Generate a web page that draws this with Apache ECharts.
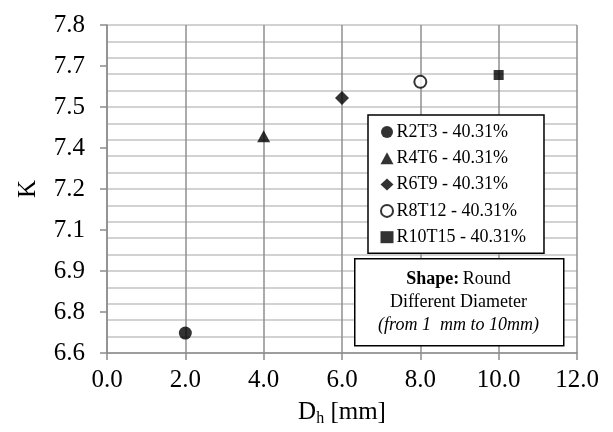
<!DOCTYPE html>
<html><head><meta charset="utf-8">
<script src="https://cdn.jsdelivr.net/npm/echarts@6/dist/echarts.min.js"></script>
<style>html,body{margin:0;padding:0;background:#fff}#c{width:613px;height:432px}</style>
</head><body><div id="c"></div>
<script>
var seriesNames = ['R2T3 - 40.31%', 'R4T6 - 40.31%', 'R6T9 - 40.31%', 'R8T12 - 40.31%', 'R10T15 - 40.31%'];
var dhValues = [2, 4, 6, 8, 10];
var kValues = [6.673, 7.393, 7.533, 7.592, 7.617];
var yTickLabels = ['6.6', '6.8', '6.9', '7.1', '7.2', '7.4', '7.5', '7.7', '7.8'];
var symbols = ['circle', 'triangle', 'diamond', 'emptyCircle', 'rect'];
var symbolSizes = [13, [13, 12], 14, 12, 10];

var FONT = '"Liberation Serif", "Times New Roman", serif';
var chart = echarts.init(document.getElementById('c'));
var series = seriesNames.map(function (n, i) {
  return {
    name: n, type: 'scatter', xAxisIndex: 0, yAxisIndex: 0,
    symbol: symbols[i], symbolSize: symbolSizes[i],
    itemStyle: symbols[i] === 'emptyCircle' ? { color: '#000', borderColor: '#000', borderWidth: 2 } : { color: '#000' },
    data: [[dhValues[i], kValues[i]]], z: 5
  };
});
chart.setOption({
  animation: false,
  backgroundColor: '#fff',
  textStyle: { fontFamily: FONT },
  grid: { left: 107, right: 36, top: 25, bottom: 79 },
  legend: {
    orient: 'vertical', left: 368, top: 115,
    padding: [8, 18, 7, 12], itemGap: 8.3, itemWidth: 13, itemHeight: 12,
    borderColor: '#000', borderWidth: 1.5, backgroundColor: '#fff',
    textStyle: { fontFamily: FONT, fontSize: 18, lineHeight: 18, color: '#000', padding: [0, 0, 0, -2] },
    data: seriesNames.map(function (n, i) { return { name: n, icon: symbols[i] }; }),
    z: 10
  },
  xAxis: {
    type: 'value', min: 0, max: 12, interval: 2, z: 2,
    name: '{a|D}{s|h}{a| [mm]}', nameLocation: 'middle', nameGap: 44,
    nameTextStyle: { rich: { a: { fontFamily: FONT, fontSize: 25, color: '#000' }, s: { fontFamily: FONT, fontSize: 16, color: '#000', verticalAlign: 'bottom', padding: [14, 0, 0, 0] } } },
    axisLine: { show: true, lineStyle: { color: '#8c8c8c', width: 1.5 } },
    axisTick: { show: true, inside: false, length: 7, lineStyle: { color: '#8c8c8c', width: 1.5 } },
    axisLabel: { fontFamily: FONT, fontSize: 25, color: '#000', margin: 15, formatter: function (v) { return v.toFixed(1); } },
    splitLine: { show: true, lineStyle: { color: '#8f8f8f', width: 1.5 } }
  },
  yAxis: [{
    type: 'value', min: 6.6, max: 7.8, interval: 0.15, z: 3,
    name: 'K', nameLocation: 'middle', nameGap: 66,
    nameTextStyle: { fontFamily: FONT, fontSize: 25, color: '#000' },
    axisLine: { show: true, lineStyle: { color: '#8c8c8c', width: 1.5 } },
    axisTick: { show: true, inside: false, length: 7, lineStyle: { color: '#8c8c8c', width: 1.5 } },
    axisLabel: { fontFamily: FONT, fontSize: 25, color: '#000', margin: 22,
      formatter: function (v) { return yTickLabels[Math.round((v - 6.6) / 0.15)]; } },
    splitLine: { show: false }
  }, {
    type: 'value', min: 6.6, max: 7.8, interval: 0.06, position: 'left', z: 1,
    axisLine: { show: false }, axisTick: { show: false }, axisLabel: { show: false },
    splitLine: { show: true, lineStyle: { color: '#c3c3c3', width: 1.5 } }
  }],
  graphic: [{
    type: 'rect', left: 354, top: 258, z: 100,
    shape: { x: 0, y: 0, width: 209, height: 87 },
    style: { fill: '#fff', stroke: '#000', lineWidth: 1.5 }
  }, {
    type: 'text', x: 458.5, y: 302, z: 101,
    style: {
      text: '{b|Shape:} {r|Round}\n{r|Different Diameter}\n{i|(from 1  mm to 10mm)}',
      align: 'center', verticalAlign: 'middle', fill: '#000',
      rich: {
        b: { fontFamily: FONT, fontSize: 18, fontWeight: 'bold', lineHeight: 23, fill: '#000' },
        r: { fontFamily: FONT, fontSize: 18, lineHeight: 23, fill: '#000' },
        i: { fontFamily: FONT, fontSize: 18, fontStyle: 'italic', lineHeight: 23, fill: '#000' }
      }
    }
  }],
  series: series
});
</script></body></html>
